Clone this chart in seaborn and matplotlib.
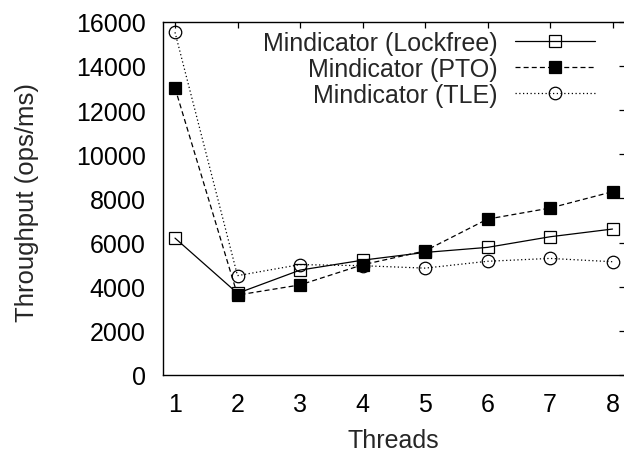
import matplotlib
matplotlib.use("Agg")
import matplotlib.pyplot as plt
import seaborn as sns
import pandas as pd

threads = [1, 2, 3, 4, 5, 6, 7, 8]
lockfree = [6200, 3700, 4750, 5200, 5550, 5780, 6260, 6610]
pto = [13000, 3620, 4080, 4990, 5620, 7060, 7560, 8300]
tle = [15520, 4500, 5000, 4950, 4840, 5150, 5280, 5130]

series_names = ["Mindicator (Lockfree)", "Mindicator (PTO)", "Mindicator (TLE)"]
yticks = [0, 2000, 4000, 6000, 8000, 10000, 12000, 14000, 16000]

sns.set_theme(style="white")
plt.rcParams["font.family"] = ["Liberation Sans", "DejaVu Sans"]
plt.rcParams["font.size"] = 18

df = pd.DataFrame({
    "Threads": threads * 3,
    "Throughput": lockfree + pto + tle,
    "series": [series_names[0]] * 8 + [series_names[1]] * 8 + [series_names[2]] * 8,
})

fig = plt.figure(figsize=(6.24, 4.52), dpi=100)
ax = fig.add_axes([162.5 / 624, 76 / 452, 462.5 / 624, 353.3 / 452])

styles = {
    series_names[0]: dict(linestyle="-", marker="s", markerfacecolor="none", markersize=9),
    series_names[1]: dict(linestyle=(0, (4, 2.5)), marker="s", markerfacecolor="black", markersize=9),
    series_names[2]: dict(linestyle=(0, (1, 2)), marker="o", markerfacecolor="none", markersize=9),
}

for name in series_names:
    sns.lineplot(
        data=df[df["series"] == name], x="Threads", y="Throughput", ax=ax,
        color="black", linewidth=0.9, markeredgecolor="black", markeredgewidth=0.9,
        label=name, **styles[name],
    )

ax.set_xlim(0.8, 8.2)
ax.set_ylim(0, 16000)
ax.set_xticks(threads)
ax.set_yticks(yticks)
ax.set_xticklabels([str(t) for t in threads])
ax.set_yticklabels([str(v) for v in yticks])

for side in ["left", "right", "top", "bottom"]:
    ax.spines[side].set_visible(True)
    ax.spines[side].set_color("black")
    ax.spines[side].set_linewidth(1.0)

ax.tick_params(axis="both", which="major", direction="in", length=4.5, width=0.9,
               colors="black", labelsize=18, top=True, right=True)
ax.tick_params(axis="x", pad=12)
ax.tick_params(axis="y", pad=12)

ax.set_xlabel("Threads", fontsize=18)
ax.set_ylabel("Throughput (ops/ms)", fontsize=18.5)
ax.xaxis.label.set_va("center")
ax.yaxis.label.set_va("center")
ax.xaxis.set_label_coords(0.5, -0.184)
ax.yaxis.set_label_coords((27 - 162.5) / 462.5, 0.49)

leg = ax.legend(
    loc="upper right", bbox_to_anchor=(0.935, 0.973), frameon=False,
    markerfirst=False, numpoints=1, handlelength=3.2, handletextpad=0.7,
    labelspacing=0.07, borderpad=0, borderaxespad=0, fontsize=18,
)
for t in leg.get_texts():
    t.set_ha("right")

fig.savefig("out.png", dpi=100)
